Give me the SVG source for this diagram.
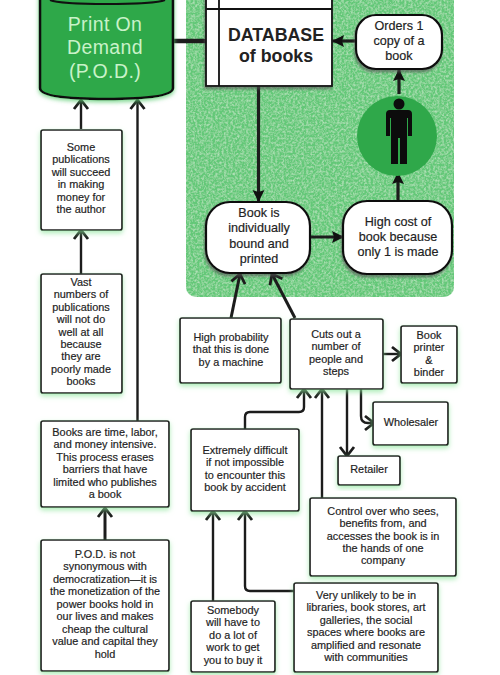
<svg xmlns="http://www.w3.org/2000/svg" width="500" height="675" viewBox="0 0 500 675">
<style>
text{font-family:"Liberation Sans",Arial,sans-serif;fill:#222;stroke:#222;stroke-width:.18px;text-anchor:middle;font-size:10.900px}
.box{fill:#fff;stroke:#222;stroke-width:1.700;filter:url(#glow)}
.pill{fill:#fff;stroke:#111;stroke-width:2.200;filter:url(#grey)}
.r text{font-size:12.600px}
.c{fill:none;stroke:#1c1c1c;stroke-width:2.400}
.o{marker-end:url(#open)}
.s{marker-end:url(#solid)}
</style>
<defs>
<filter id="glow" x="-15%" y="-15%" width="130%" height="135%"><feDropShadow dx="0" dy="2.500" stdDeviation="2.500" flood-color="#8ae59a" flood-opacity=".7"/></filter>
<filter id="grey" x="-15%" y="-15%" width="130%" height="135%"><feDropShadow dx="-1" dy="2.500" stdDeviation="1" flood-color="#555" flood-opacity=".6"/></filter>
<filter id="cyl" x="-10%" y="-10%" width="120%" height="125%"><feDropShadow dx="0" dy="2" stdDeviation="2" flood-color="#5fce74" flood-opacity=".8"/></filter>
<filter id="speck" x="0" y="0" width="100%" height="100%"><feTurbulence type="fractalNoise" baseFrequency=".45" numOctaves="3" seed="4" result="n"/><feColorMatrix in="n" type="matrix" values="0 0 0 0 .72  0 0 0 0 .92  0 0 0 0 .74  1.100 0 0 0 -.42" result="m"/><feComposite in="m" in2="SourceGraphic" operator="in" result="t"/><feMerge><feMergeNode in="SourceGraphic"/><feMergeNode in="t"/></feMerge></filter>
<marker id="open" markerUnits="userSpaceOnUse" markerWidth="16" markerHeight="16" refX="12" refY="7" orient="auto" overflow="visible"><path d="M3 0L12 7L3 14" fill="none" stroke="#1c1c1c" stroke-width="2.800"/></marker>
<marker id="solid" markerUnits="userSpaceOnUse" markerWidth="14" markerHeight="14" refX="12" refY="6" orient="auto" overflow="visible"><path d="M0 0L12 6L0 12L2 6Z" fill="#111"/></marker>
</defs>

<rect id="panel" x="186" y="-12" width="268" height="309" rx="10" fill="#64c878" filter="url(#speck)"/>

<g id="connectors">
<path class="c" style="stroke-width:4.500" d="M173 41H206"/>
<path class="c o" d="M81 129V100"/>
<path class="c o" d="M137.500 421V100"/>
<path class="c o" d="M81 274V230"/>
<path class="c o" style="stroke-width:3" d="M105 540V508"/>
<path class="c s" style="stroke-width:3.200" d="M258.500 86V202"/>
<path class="c s" style="stroke-width:3.200" d="M311 237H344"/>
<path class="c s" style="stroke-width:3.200" d="M398 201V172"/>
<path class="c s" style="stroke-width:3.200" d="M399 94V69"/>
<path class="c s" style="stroke-width:3.200" d="M356 41H332"/>
<path class="c o" style="stroke-width:3" d="M231 318L240 274"/>
<path class="c o" style="stroke-width:3" d="M295 318L272 274"/>
<path class="c o" d="M383 354H401"/>
<path class="c o" d="M361 389V416Q361 423 368 423H374"/>
<path class="c o" d="M347 389V456"/>
<path class="c o" d="M245 429V417Q245 412 250 412H299Q304 412 304 407V389"/>
<path class="c o" d="M322 498V389"/>
<path class="c o" d="M213 601V511"/>
<path class="c o" d="M294 591H250Q245 591 245 586V511"/>
</g>

<g id="pod">
<path d="M40 -8V88Q40 99 106 99Q173 99 173 88V-8Z" fill="#2fa84a" stroke="#111" stroke-width="2.600" filter="url(#cyl)"/>
<path d="M50 0Q60 4 106 4Q155 4 165 0" fill="none" stroke="#111" stroke-width="2"/>
<text style="font-size:19.500px;fill:#c9f2c9;stroke:none;letter-spacing:.4px" x="105" y="31">Print On</text>
<text style="font-size:19.500px;fill:#c9f2c9;stroke:none;letter-spacing:.4px" x="105" y="54">Demand</text>
<text style="font-size:19.500px;fill:#c9f2c9;stroke:none;letter-spacing:.4px" x="105" y="78">(P.O.D.)</text>
</g>

<g id="database">
<rect class="pill" x="206" y="-8" width="126" height="94" style="stroke-width:1.800"/>
<path d="M206 9H332M219 -8V86" fill="none" stroke="#111" stroke-width="1.800"/>
<text style="font-size:17.800px;font-weight:bold;stroke:none" x="276" y="41">DATABASE</text>
<text style="font-size:17.800px;font-weight:bold;stroke:none" x="276" y="62">of books</text>
</g>

<g id="orders" class="r">
<rect class="pill" x="356" y="15" width="86" height="54" rx="20"/>
<text x="399" y="30">Orders 1</text><text x="399" y="45">copy of a</text><text x="399" y="60">book</text>
</g>

<g id="person">
<circle cx="397" cy="136" r="40" fill="#2fa84a"/>
<circle cx="399" cy="104" r="5.500" fill="#0c0c0c"/>
<path d="M390 110H408Q412 110 412 114V136H408V118H407V164H400V138H398V164H391V118H390V136H386V114Q386 110 390 110Z" fill="#0c0c0c"/>
</g>

<g id="bound" class="r">
<rect class="pill" x="206" y="202" width="104" height="71" rx="24"/>
<text x="259" y="217">Book is</text><text x="259" y="232">individually</text><text x="259" y="247.500">bound and</text><text x="259" y="263">printed</text>
</g>

<g id="highcost" class="r">
<rect class="pill" x="343" y="201" width="109" height="73" rx="24"/>
<text x="398" y="226">High cost of</text><text x="398" y="241">book because</text><text x="398" y="256">only 1 is made</text>
</g>

<g id="some">
<rect class="box" x="41" y="130" width="81" height="100" rx="2"/>
<text x="81" y="151">Some</text><text x="81" y="163">publications</text><text x="81" y="176">will succeed</text><text x="81" y="188">in making</text><text x="81" y="201">money for</text><text x="81" y="213">the author</text>
</g>

<g id="vast">
<rect class="box" x="41" y="274" width="81" height="119" rx="2"/>
<text x="81" y="286">Vast</text><text x="81" y="298">numbers of</text><text x="81" y="311">publications</text><text x="81" y="323">will not do</text><text x="81" y="336">well at all</text><text x="81" y="348">because</text><text x="81" y="360">they are</text><text x="81" y="373">poorly made</text><text x="81" y="385">books</text>
</g>

<g id="intensive">
<rect class="box" x="41" y="421" width="128" height="86" rx="2"/>
<text x="105" y="436">Books are time, labor,</text><text x="105" y="448">and money intensive.</text><text x="105" y="461">This process erases</text><text x="105" y="473">barriers that have</text><text x="105" y="486">limited who publishes</text><text x="105" y="498">a book</text>
</g>

<g id="democratization">
<rect class="box" x="41" y="540" width="128" height="131" rx="2"/>
<text x="105" y="558">P.O.D. is not</text><text x="105" y="570">synonymous with</text><text x="105" y="583">democratization—it is</text><text x="105" y="595">the monetization of the</text><text x="105" y="608">power books hold in</text><text x="105" y="620">our lives and makes</text><text x="105" y="633">cheap the cultural</text><text x="105" y="645">value and capital they</text><text x="105" y="658">hold</text>
</g>

<g id="machine">
<rect class="box" x="180" y="318" width="101" height="65" rx="2"/>
<text x="231" y="341">High probability</text><text x="231" y="353">that this is done</text><text x="231" y="366">by a machine</text>
</g>

<g id="cuts">
<rect class="box" x="290" y="319" width="93" height="70" rx="2"/>
<text x="336" y="338">Cuts out a</text><text x="336" y="350">number of</text><text x="336" y="363">people and</text><text x="336" y="375">steps</text>
</g>

<g id="printer">
<rect class="box" x="401" y="326" width="56" height="57" rx="2"/>
<text x="429" y="339">Book</text><text x="429" y="351">printer</text><text x="429" y="364">&amp;</text><text x="429" y="376">binder</text>
</g>

<g id="wholesaler">
<rect class="box" x="373" y="402" width="75" height="43" rx="2"/>
<text x="411" y="426">Wholesaler</text>
</g>

<g id="retailer">
<rect class="box" x="338" y="456" width="62" height="29" rx="2"/>
<text x="369" y="473">Retailer</text>
</g>

<g id="difficult">
<rect class="box" x="191" y="429" width="108" height="82" rx="2"/>
<text x="245" y="454">Extremely difficult</text><text x="245" y="466">if not impossible</text><text x="245" y="479">to encounter this</text><text x="245" y="491">book by accident</text>
</g>

<g id="control">
<rect class="box" x="310" y="498" width="146" height="78" rx="2"/>
<text x="383" y="515">Control over who sees,</text><text x="383" y="527">benefits from, and</text><text x="383" y="540">accesses the book is in</text><text x="383" y="552">the hands of one</text><text x="383" y="564">company</text>
</g>

<g id="unlikely">
<rect class="box" x="294" y="583" width="144" height="89" rx="2"/>
<text x="366" y="599">Very unlikely to be in</text><text x="366" y="611">libraries, book stores, art</text><text x="366" y="624">galleries, the social</text><text x="366" y="636">spaces where books are</text><text x="366" y="649">amplified and resonate</text><text x="366" y="661">with communities</text>
</g>

<g id="somebody">
<rect class="box" x="191" y="601" width="84" height="71" rx="2"/>
<text x="233" y="614">Somebody</text><text x="233" y="626">will have to</text><text x="233" y="639">do a lot of</text><text x="233" y="651">work to get</text><text x="233" y="664">you to buy it</text>
</g>
</svg>
